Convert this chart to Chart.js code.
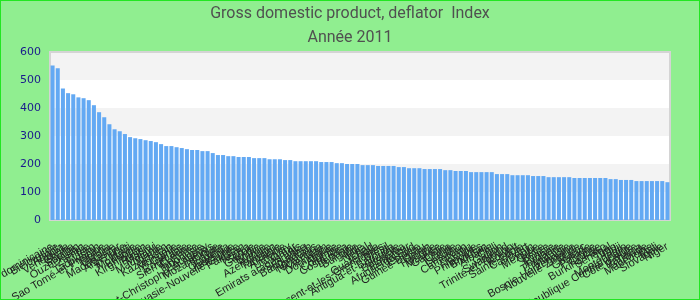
<!DOCTYPE html>
<html>
<head>
<meta charset="utf-8">
<title>Gross domestic product, deflator Index</title>
<script src="https://cdn.jsdelivr.net/npm/chart.js@4.4.1/dist/chart.umd.min.js"></script>
<style>
html, body { margin: 0; padding: 0; background: #90ee90; }
#wrap { width: 698px; height: 298px; border: 1px solid #22e622; background: #90ee90; }
</style>
</head>
<body>
<div id="wrap"><canvas id="myChart"></canvas></div>
<script>
var titleLines = ['Gross domestic product, deflator  Index', 'Année 2011']

var countries = [
    'République dominicaine', 'Biélorussie', 'Angola', 'Venezuela', 'Ghana', 'Soudan', 'Ouzbékistan', 'Zambie', 'Iran', 'Tadjikistan',
    'Sao Tomé-et-Principe', 'Nigeria', 'Ukraine', 'Madagascar', 'Argentine', 'Haïti', 'Moldavie', 'Éthiopie', 'Kirghizistan', 'Russie',
    'Malawi', 'Mauritanie', 'Yémen', 'Kazakhstan', 'Mongolie', 'Guinée', 'Roumanie', 'Sierra Leone', 'Érythrée', 'Indonésie',
    'Paraguay', 'Saint-Christophe-et-Niévès', 'Mozambique', 'Égypte', 'Ouganda', 'Jamaïque', 'Papouasie-Nouvelle-Guinée', 'Pakistan', 'Kenya', 'Serbie',
    'Géorgie', 'Bolivie', 'Turquie', 'Azerbaïdjan', 'Tanzanie', 'Arménie', 'Uruguay', 'Qatar', 'Emirats arabes unis', 'Sri Lanka',
    'Bangladesh', 'Honduras', 'Nicaragua', 'Viet Nam', 'Dominique', 'Algérie', 'Colombie', 'Costa Rica', 'Lettonie', 'Bulgarie',
    'Inde', 'Népal', 'Tchad', 'Guatemala', 'Saint-Vincent-et-les-Grenadines', 'Brésil', 'Antigua-et-Barbuda', 'Lituanie', 'Botswana', 'Équateur',
    'Afrique du Sud', 'Estonie', 'Guinée-Bissau', 'Oman', 'Hongrie', 'Maurice', 'Gambie', 'Chine', 'Islande', 'Lesotho',
    'Cameroun', 'Pérou', 'Namibie', 'Philippines', 'Bhoutan', 'Albanie', 'Chili', 'Gabon', 'Swaziland', 'Trinité-et-Tobago',
    'Koweït', 'Sainte-Lucie', 'Cap-Vert', 'Bénin', 'Mexique', 'Grèce', 'Belize', 'Tunisie', 'Jordanie', 'Thaïlande',
    'Malaisie', 'Bosnie-Herzégovine', 'Nouvelle-Zélande', 'Maroc', 'Grenade', 'Pologne', 'Croatie', 'Burkina Faso', 'Sénégal', 'Togo',
    'Fidji', 'Monténégro', 'République Centrafricaine', "Côte d'Ivoire", 'Panama', 'Barbade', 'Macédoine', 'Mali', 'Slovaquie', 'Niger'
]

var deflator2011 = [
    552, 542, 470, 453, 449, 438, 435, 428, 410, 385,
    367, 342, 324, 317, 307, 296, 292, 289, 285, 282,
    278, 271, 264, 264, 260, 257, 253, 250, 250, 246,
    246, 239, 232, 232, 228, 228, 225, 225, 225, 221,
    221, 221, 217, 217, 217, 214, 214, 210, 210, 210,
    210, 210, 207, 207, 207, 203, 203, 200, 200, 200,
    196, 196, 196, 193, 193, 193, 193, 189, 189, 185,
    185, 185, 182, 182, 182, 182, 178, 178, 175, 175,
    175, 171, 171, 171, 171, 171, 164, 164, 164, 160,
    160, 160, 160, 157, 157, 157, 153, 153, 153, 153,
    153, 150, 150, 150, 150, 150, 150, 150, 146, 146,
    143, 143, 143, 139, 139, 139, 139, 139, 139, 135
]

var yMin = 0
var yMax = 600
var yStep = 100

// alternating white / light grey bands behind the bars, plus the frame of the plot
var bandPlugin = {
    id: 'bands',
    beforeDatasetsDraw: function(chart){
        var ctx = chart.ctx
        var area = chart.chartArea
        var y = chart.scales.y
        var ticks = y.ticks
        ctx.save()
        ctx.fillStyle = '#ffffff'
        ctx.fillRect(area.left, area.top, area.right - area.left, area.bottom - area.top)
        ctx.fillStyle = '#f3f3f3'
        for (var i = 1; i < ticks.length - 1; i += 2) {
            var top = y.getPixelForValue(ticks[i + 1].value)
            var bottom = y.getPixelForValue(ticks[i].value)
            ctx.fillRect(area.left, top, area.right - area.left, bottom - top)
        }
        ctx.strokeStyle = '#d4d4d4'
        ctx.lineWidth = 2
        ctx.strokeRect(area.left, area.top, area.right - area.left, area.bottom - area.top)
        ctx.restore()
    }
}

function setChart(){
    var ctx = document.getElementById('myChart').getContext('2d')
    var chart = new Chart(ctx, {
        type: 'bar',
        data: {
            labels: countries,
            datasets: [{
                data: deflator2011,
                backgroundColor: '#63a9f3',
                borderWidth: 0,
                categoryPercentage: 1,
                barPercentage: 0.78
            }]
        },
        options: {
            responsive: true,
            maintainAspectRatio: false,
            animation: false,
            layout: { padding: 0 },
            plugins: {
                legend: { display: false },
                tooltip: { enabled: false },
                title: {
                    display: true,
                    text: titleLines,
                    color: '#505050',
                    font: { family: "Roboto, 'Liberation Sans', sans-serif", size: 16, weight: 'normal', lineHeight: '24px' },
                    padding: { top: 1, bottom: 2 }
                }
            },
            scales: {
                x: {
                    grid: { display: false, drawTicks: false },
                    border: { display: false },
                    ticks: {
                        autoSkip: false,
                        minRotation: 30,
                        maxRotation: 30,
                        padding: 20,
                        color: '#222222',
                        font: { family: "'Liberation Sans', sans-serif", size: 11 }
                    },
                    afterFit: function(scale){
                        // keep the plot where the reference has it, let long labels run off the canvas
                        scale.height = 79
                        scale.paddingLeft = 0
                        scale.paddingRight = 29
                    }
                },
                y: {
                    min: yMin,
                    max: yMax,
                    grid: { display: false, drawTicks: false },
                    border: { display: false },
                    ticks: {
                        stepSize: yStep,
                        padding: 9,
                        color: '#1a1a8c',
                        font: { family: "'DejaVu Sans', sans-serif", size: 11 }
                    },
                    afterFit: function(scale){
                        scale.width = 49
                    }
                }
            }
        },
        plugins: [bandPlugin]
    })
}

setChart()
</script>
</body>
</html>
